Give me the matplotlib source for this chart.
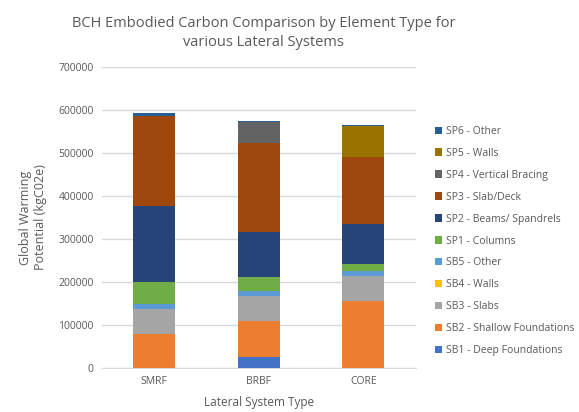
import matplotlib
matplotlib.use("Agg")
import matplotlib.pyplot as plt
import numpy as np

plt.rcParams['font.family'] = ['Open Sans', 'DejaVu Sans']

systems = ['SMRF', 'BRBF', 'CORE']
series_names = ['SB1 - Deep Foundations', 'SB2 - Shallow Foundations', 'SB3 - Slabs',
                'SB4 - Walls', 'SB5 - Other', 'SP1 - Columns', 'SP2 - Beams/ Spandrels',
                'SP3 - Slab/Deck', 'SP4 - Vertical Bracing', 'SP5 - Walls', 'SP6 - Other']
sb1 = [0, 25600, 0]
sb2 = [79000, 84000, 155800]
sb3 = [57000, 58000, 59000]
sb4 = [0, 0, 0]
sb5 = [12000, 12000, 11000]
sp1 = [52000, 31000, 15000]
sp2 = [177000, 105000, 95000]
sp3 = [209000, 209000, 155000]
sp4 = [0, 47000, 0]
sp5 = [0, 0, 72000]
sp6 = [8000, 2000, 3000]
colors = ['#4472C4', '#ED7D31', '#A5A5A5', '#FFC000', '#5B9BD5', '#70AD47',
          '#264478', '#9E480E', '#636363', '#997300', '#255E91']

series = [sb1, sb2, sb3, sb4, sb5, sp1, sp2, sp3, sp4, sp5, sp6]

fig = plt.figure(figsize=(5.79, 4.12), dpi=100)
ax = fig.add_axes([0.176, 0.107, 0.542, 0.730])

x = np.arange(len(systems))
bottom = np.zeros(len(systems))
for name, vals, c in zip(series_names, series, colors):
    ax.bar(x, vals, 0.4, bottom=bottom, color=c, label=name, zorder=3)
    bottom += np.array(vals)

ax.set_xlim(-0.5, 2.5)
ax.set_ylim(0, 700000)
ax.set_yticks(range(0, 700001, 100000))
ax.set_xticks(x)
ax.set_xticklabels(systems)
ax.yaxis.grid(True, color='#D9D9D9', linewidth=1, zorder=0)
for s in ['top', 'right', 'left']:
    ax.spines[s].set_visible(False)
ax.spines['bottom'].set_color('#D9D9D9')
ax.tick_params(axis='both', length=0, labelsize=7.5, colors='#595959')
ax.tick_params(axis='y', pad=6)
ax.tick_params(axis='x', pad=6)

ax.set_xlabel('Lateral System Type', fontsize=8.5, color='#595959', labelpad=6)
ax.set_ylabel('Global Warming\nPotential (kgC02e)', fontsize=9, color='#595959', labelpad=8)
fig.suptitle('BCH Embodied Carbon Comparison by Element Type for\nvarious Lateral Systems',
             x=0.455, y=0.962, fontsize=10.5, color='#595959', linespacing=1.35)

h, l = ax.get_legend_handles_labels()
fig.legend(h[::-1], l[::-1], loc='center left', bbox_to_anchor=(0.735, 0.415),
           frameon=False, fontsize=7.5, labelcolor='#595959', handlelength=0.7,
           handleheight=0.7, handletextpad=0.4, labelspacing=1.05)

fig.savefig('out.png', dpi=100)
